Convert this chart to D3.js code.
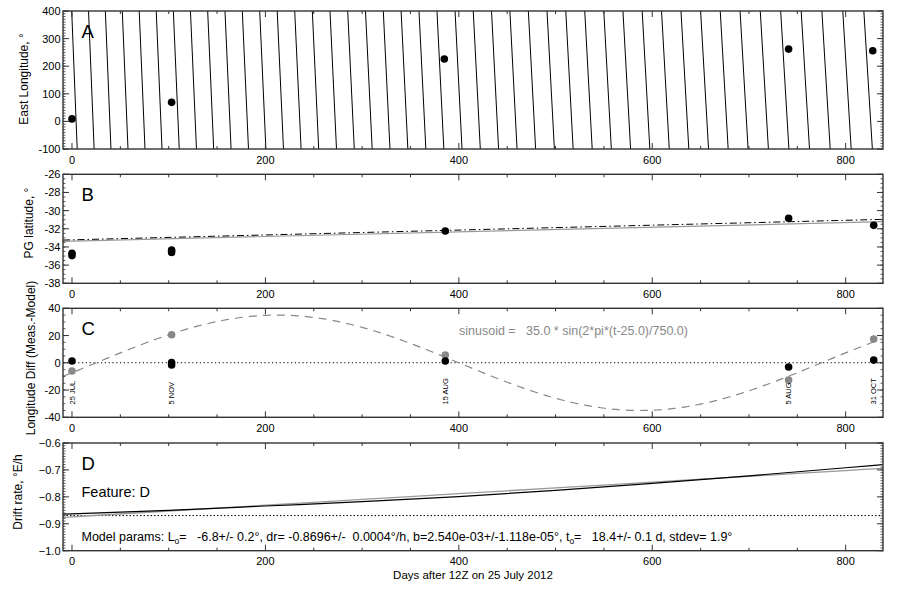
<!DOCTYPE html>
<html><head><meta charset="utf-8">
<script src="https://cdn.jsdelivr.net/npm/d3@7"></script>
<style>body{margin:0;background:#fff} svg{display:block} text{font-family:"Liberation Sans",Arial,Helvetica,sans-serif;fill:#000}</style>
</head><body><svg id="c" width="900" height="600"></svg>
<script>
// ---------- data ----------
const dayDomain = [-9.3, 838.6];
const xMajorTicks = [0, 200, 400, 600, 800];
const xMinorStep = 50;

// Panel A: east longitude
const lonDays = [0, 103, 385, 741, 828];
const lonValues = [9, 69, 226, 262, 256];
const lonLineTop = [-0.3, 17.1, 34.5, 52.0, 69.5, 87.1, 104.8, 122.5, 140.3, 158.2, 176.1, 194.1, 212.2, 230.3, 248.5, 266.8, 285.1, 303.5, 321.9, 340.3, 358.8, 377.4, 396.1, 414.9, 433.8, 452.8, 471.9, 491.2, 510.6, 530.2, 549.9, 569.7, 589.6, 609.6, 629.7, 650.0, 670.3, 690.8, 711.7, 732.8, 754.0, 775.4, 797.0, 818.8];
const lonLineBottom = [5.4, 22.9, 40.3, 57.9, 75.5, 93.1, 110.9, 128.7, 146.5, 164.5, 182.5, 200.5, 218.7, 236.9, 255.1, 273.5, 291.9, 310.4, 328.8, 347.3, 365.9, 384.5, 403.3, 422.2, 441.1, 460.2, 479.4, 498.8, 518.2, 537.9, 557.7, 577.6, 597.5, 617.6, 637.8, 658.2, 678.5, 699.1, 720.1, 741.3, 762.6, 784.0, 805.7, 827.6];
const lonTicks = [-100, 0, 100, 200, 300, 400];

// Panel B: planetographic latitude
const latDays = [0, 0, 103, 103, 386, 741, 829];
const latValues = [-34.7, -34.95, -34.35, -34.6, -32.24, -30.85, -31.62];
const latFitDays = [-9.3, 838.6];
const latFitBlack = [-33.24, -30.96];
const latFitGray = [-33.38, -31.22];
const latTicks = [-38, -36, -34, -32, -30, -28, -26];

// Panel C: longitude difference
const diffBlackDays = [0, 103, 103, 386, 741, 829];
const diffBlack = [1.3, 0.2, -1.6, 1.3, -3.1, 2.0];
const diffGrayDays = [0, 103, 386, 741, 829];
const diffGray = [-6.0, 20.6, 5.7, -12.6, 17.5];
const dateLabelDays = [0, 103, 386, 741, 829];
const dateLabels = ["25 JUL", "5 NOV", "15 AUG", "5 AUG", "31 OCT"];
const sinAmp = 35.0, sinT0 = 25.0, sinPeriod = 750.0;
const diffTicks = [-40, -20, 0, 20, 40];

// Panel D: drift rate
const driftDays = [-9.3, 0, 100, 200, 300, 400, 500, 600, 700, 800, 838.6];
const driftBlack = [-0.8645, -0.8635, -0.850, -0.834, -0.818, -0.799, -0.776, -0.750, -0.722, -0.692, -0.680];
const driftGray = [-0.876, -0.874, -0.8526, -0.8311, -0.8097, -0.7882, -0.7668, -0.7453, -0.7238, -0.7023, -0.694];
const driftConst = -0.8696;
const driftTicks = [-1.0, -0.9, -0.8, -0.7, -0.6];

// ---------- layout ----------
const svg = d3.select("#c");
const L = 63, R = 883;
const x = d3.scaleLinear().domain(dayDomain).range([L, R]);
const frameColor = "#333";

const panels = [
  {key:"A", top:11, bottom:149, domain:[-100,400], ticks:lonTicks, minor:10, fmt:d=>String(d), title:"East Longitude, °", titleX:28, titleY:79},
  {key:"B", top:174.3, bottom:283.3, domain:[-38,-26], ticks:latTicks, minor:0.5, fmt:d=>String(d), title:"PG latitude, °", titleX:33, titleY:223},
  {key:"C", top:308.3, bottom:417.3, domain:[-40,40], ticks:diffTicks, minor:5, fmt:d=>String(d), title:"Longitude Diff (Meas.-Model)", titleX:35, titleY:358},
  {key:"D", top:443, bottom:550.7, domain:[-1.0,-0.6], ticks:driftTicks, minor:0.01, fmt:d=>d3.format(".1f")(d), title:"Drift rate, °E/h", titleX:22, titleY:492}
];

panels.forEach(p => {
  p.y = d3.scaleLinear().domain(p.domain).range([p.bottom, p.top]);
  const g = svg.append("g");
  p.g = g;
  g.append("clipPath").attr("id","clip"+p.key).append("rect")
    .attr("x",L).attr("y",p.top).attr("width",R-L).attr("height",p.bottom-p.top);
  p.plot = g.append("g").attr("clip-path","url(#clip"+p.key+")");
});

function drawFrame(p){
  const g = p.g;
  const minors = d3.range(0, dayDomain[1], xMinorStep).filter(d=>!xMajorTicks.includes(d));
  minors.forEach(d=>{
    g.append("line").attr("x1",x(d)).attr("x2",x(d)).attr("y1",p.bottom).attr("y2",p.bottom-3).attr("stroke",frameColor);
    g.append("line").attr("x1",x(d)).attr("x2",x(d)).attr("y1",p.top).attr("y2",p.top+3).attr("stroke",frameColor);
  });
  xMajorTicks.forEach(d=>{
    g.append("line").attr("x1",x(d)).attr("x2",x(d)).attr("y1",p.bottom).attr("y2",p.bottom-6).attr("stroke",frameColor);
    g.append("line").attr("x1",x(d)).attr("x2",x(d)).attr("y1",p.top).attr("y2",p.top+6).attr("stroke",frameColor);
    g.append("text").attr("x",x(d)).attr("y",p.bottom+14.5).attr("text-anchor","middle")
      .attr("font-size",11).text(d);
  });
  const n = Math.round((p.domain[1]-p.domain[0])/p.minor);
  d3.range(n+1).map(i=>p.domain[0]+i*p.minor).forEach(v=>{
    const yy = p.y(v);
    g.append("line").attr("x1",L).attr("x2",L+2.5).attr("y1",yy).attr("y2",yy).attr("stroke",frameColor).attr("stroke-width",0.8);
    g.append("line").attr("x1",R).attr("x2",R-2.5).attr("y1",yy).attr("y2",yy).attr("stroke",frameColor).attr("stroke-width",0.8);
  });
  p.ticks.forEach(v=>{
    const yy = p.y(v);
    g.append("line").attr("x1",L).attr("x2",L+6).attr("y1",yy).attr("y2",yy).attr("stroke",frameColor);
    g.append("line").attr("x1",R).attr("x2",R-6).attr("y1",yy).attr("y2",yy).attr("stroke",frameColor);
    g.append("text").attr("x",60.5).attr("y",yy).attr("dy","0.36em").attr("text-anchor","end")
      .attr("font-size",11).text(p.fmt(v));
  });
  g.append("rect").attr("x",L).attr("y",p.top).attr("width",R-L).attr("height",p.bottom-p.top)
    .attr("fill","none").attr("stroke",frameColor).attr("stroke-width",1.4);
  g.append("text").attr("transform",`translate(${p.titleX},${p.titleY}) rotate(-90)`)
    .attr("text-anchor","middle").attr("font-size",12).text(p.title);
  g.append("text").attr("x",81.5).attr("y",p.top+ (p.key==="A"?27.3:26.5)).attr("font-size",18.5).text(p.key);
}

// ---------- Panel A ----------
{
  const p = panels[0];
  p.plot.selectAll("line.m").data(lonLineTop).join("line")
    .attr("x1",(d)=>x(d)).attr("y1",p.y(p.domain[1]))
    .attr("x2",(d,i)=>x(lonLineBottom[i])).attr("y2",p.y(p.domain[0]))
    .attr("stroke","#000").attr("stroke-width",1);
  p.plot.selectAll("circle").data(lonDays).join("circle")
    .attr("cx",d=>x(d)).attr("cy",(d,i)=>p.y(lonValues[i])).attr("r",3.8).attr("fill","#000");
}
// ---------- Panel B ----------
{
  const p = panels[1];
  const ln = d3.line().x(d=>x(d[0])).y(d=>p.y(d[1]));
  p.plot.append("path").attr("d",ln(latFitDays.map((d,i)=>[d,latFitGray[i]])))
    .attr("fill","none").attr("stroke","#999").attr("stroke-width",1.2);
  p.plot.append("path").attr("d",ln(latFitDays.map((d,i)=>[d,latFitBlack[i]])))
    .attr("fill","none").attr("stroke","#000").attr("stroke-width",1).attr("stroke-dasharray","7,3,1.5,3");
  p.plot.selectAll("circle").data(latDays).join("circle")
    .attr("cx",d=>x(d)).attr("cy",(d,i)=>p.y(latValues[i])).attr("r",3.8).attr("fill","#000");
}
// ---------- Panel C ----------
{
  const p = panels[2];
  p.plot.append("line").attr("x1",L).attr("x2",R).attr("y1",p.y(0)).attr("y2",p.y(0))
    .attr("stroke","#000").attr("stroke-width",1.1).attr("stroke-dasharray","1.2,2.6");
  const sinDays = d3.range(dayDomain[0], dayDomain[1]+1, 2);
  const ln = d3.line().x(d=>x(d)).y(d=>p.y(sinAmp*Math.sin(2*Math.PI*(d-sinT0)/sinPeriod)));
  p.plot.append("path").attr("d",ln(sinDays)).attr("fill","none").attr("stroke","#888")
    .attr("stroke-width",1.2).attr("stroke-dasharray","8,6");
  p.plot.selectAll("circle.g").data(diffGrayDays).join("circle").attr("class","g")
    .attr("cx",d=>x(d)).attr("cy",(d,i)=>p.y(diffGray[i])).attr("r",3.8).attr("fill","#888");
  p.plot.selectAll("circle.b").data(diffBlackDays).join("circle").attr("class","b")
    .attr("cx",d=>x(d)).attr("cy",(d,i)=>p.y(diffBlack[i])).attr("r",3.8).attr("fill","#000");
  p.g.selectAll("text.date").data(dateLabels).join("text").attr("class","date")
    .attr("transform",(d,i)=>`translate(${x(dateLabelDays[i])+2.7},404.5) rotate(-90)`)
    .attr("font-size",7.5).text(d=>d);
  p.g.append("text").attr("x",459).attr("y",335).attr("font-size",12.5).style("fill","#888")
    .style("white-space","pre").text("sinusoid =   35.0 * sin(2*pi*(t-25.0)/750.0)");
}
// ---------- Panel D ----------
{
  const p = panels[3];
  p.plot.append("line").attr("x1",L).attr("x2",R).attr("y1",p.y(driftConst)).attr("y2",p.y(driftConst))
    .attr("stroke","#000").attr("stroke-width",1).attr("stroke-dasharray","1.5,2");
  const ln = d3.line().curve(d3.curveMonotoneX).x(d=>x(d[0])).y(d=>p.y(d[1]));
  p.plot.append("path").attr("d",ln(driftDays.map((d,i)=>[d,driftGray[i]])))
    .attr("fill","none").attr("stroke","#999").attr("stroke-width",1.3);
  p.plot.append("path").attr("d",ln(driftDays.map((d,i)=>[d,driftBlack[i]])))
    .attr("fill","none").attr("stroke","#000").attr("stroke-width",1.2);
  p.g.append("text").attr("x",81.5).attr("y",497.3).attr("font-size",14.5).text("Feature: D");
  const t = p.g.append("text").attr("x",81.5).attr("y",541).attr("font-size",12.5).style("white-space","pre");
  t.append("tspan").text("Model params: L");
  t.append("tspan").attr("font-size",8.5).attr("dy",3).text("o");
  t.append("tspan").attr("dy",-3).text("=   -6.8+/- 0.2°, dr= -0.8696+/-  0.0004°/h, b=2.540e-03+/-1.118e-05°, t");
  t.append("tspan").attr("font-size",8.5).attr("dy",3).text("o");
  t.append("tspan").attr("dy",-3).text("=   18.4+/- 0.1 d, stdev= 1.9°");
}

panels.forEach(drawFrame);

svg.append("text").attr("x",(L+R)/2).attr("y",579).attr("text-anchor","middle").attr("font-size",11.5)
  .text("Days after 12Z on 25 July 2012");
</script></body></html>
